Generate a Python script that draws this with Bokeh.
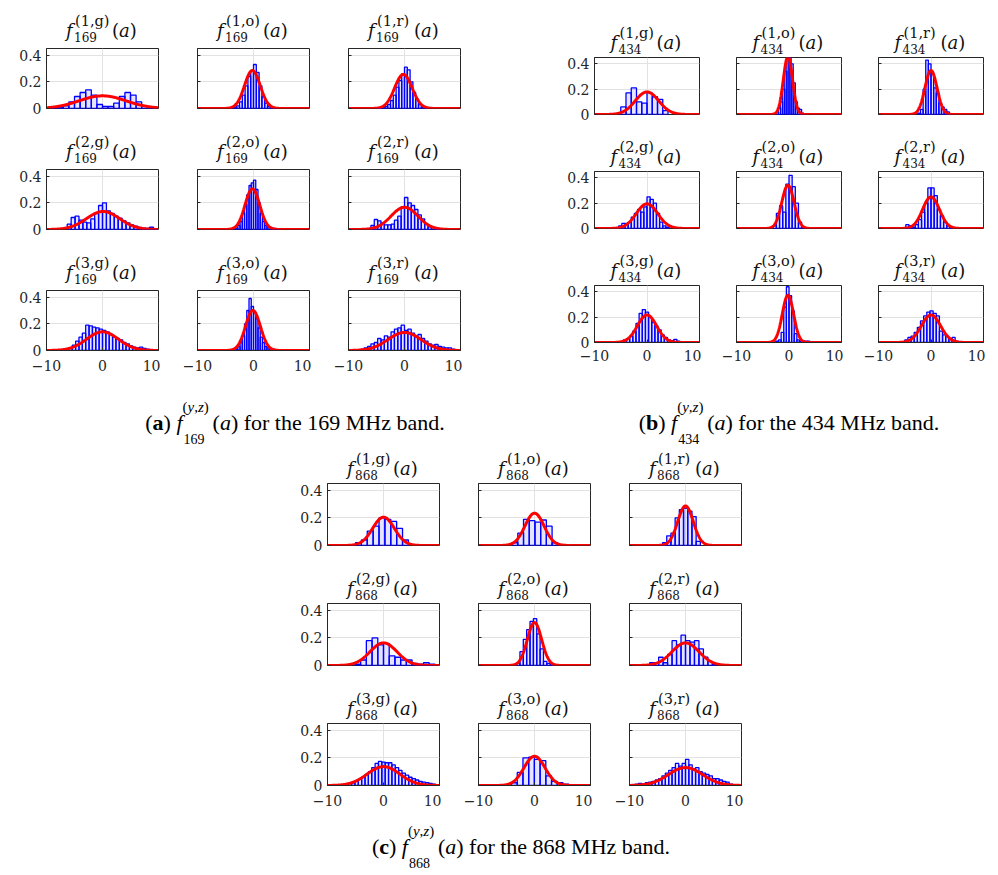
import numpy as np
from bokeh.plotting import figure
from bokeh.models import LinearAxis, FixedTicker, Div, Spacer, Grid
from bokeh.layouts import row, column
from bokeh.embed import file_html
from bokeh.resources import INLINE

# ---------------- data ----------------
X_TICKS = [-10, 0, 10]
Y_TICKS = [0, 0.2, 0.4]
X_TICK_LABELS = ["\u221210", "0", "10"]
Y_TICK_LABELS = ["0", "0.2", "0.4"]
BANDS = ["169", "434", "868"]
TAGS = ["(1,g)", "(1,o)", "(1,r)", "(2,g)", "(2,o)", "(2,r)", "(3,g)", "(3,o)", "(3,r)"]

# ---- 169 MHz: histogram heights (density), first bin edge, bin width ----
h169_1g = [0.005, 0.01, 0.02, 0.05, 0.09, 0.12, 0.14, 0.10, 0.03, 0.015, 0.015, 0.04, 0.09, 0.12, 0.10, 0.05, 0.02, 0.005]
h169_1o = [0.005, 0.01, 0.02, 0.05, 0.10, 0.17, 0.24, 0.28, 0.33, 0.27, 0.17, 0.09, 0.04, 0.015, 0.005, 0.002]
h169_1r = [0.005, 0.005, 0.01, 0.015, 0.03, 0.06, 0.10, 0.16, 0.21, 0.26, 0.31, 0.29, 0.20, 0.12, 0.07, 0.03, 0.01, 0.005]
h169_2g = [0.04, 0.09, 0.10, 0.07, 0.055, 0.05, 0.08, 0.12, 0.18, 0.20, 0.14, 0.12, 0.10, 0.085, 0.065, 0.05, 0.035, 0.025, 0.015, 0.01, 0.008, 0.017, 0.005]
h169_2o = [0.005, 0.01, 0.03, 0.06, 0.12, 0.19, 0.26, 0.33, 0.35, 0.37, 0.30, 0.20, 0.12, 0.06, 0.03, 0.02, 0.015, 0.01, 0.008, 0.005]
h169_2r = [0.03, 0.075, 0.065, 0.05, 0.035, 0.035, 0.04, 0.07, 0.10, 0.17, 0.24, 0.20, 0.18, 0.15, 0.11, 0.08, 0.04, 0.02, 0.015, 0.01, 0.005]
h169_3g = [0.005, 0.01, 0.02, 0.04, 0.07, 0.10, 0.13, 0.19, 0.185, 0.175, 0.17, 0.16, 0.15, 0.14, 0.12, 0.10, 0.09, 0.08, 0.06, 0.05, 0.035, 0.025, 0.02, 0.025, 0.015, 0.01, 0.005]
h169_3o = [0.005, 0.01, 0.03, 0.06, 0.11, 0.20, 0.30, 0.39, 0.33, 0.29, 0.24, 0.17, 0.10, 0.06, 0.03, 0.02, 0.015, 0.01, 0.008, 0.005, 0.004, 0.004]
h169_3r = [0.01, 0.02, 0.03, 0.05, 0.06, 0.09, 0.08, 0.11, 0.10, 0.14, 0.16, 0.17, 0.19, 0.15, 0.16, 0.13, 0.10, 0.12, 0.09, 0.07, 0.05, 0.04, 0.045, 0.03, 0.025, 0.02, 0.02, 0.01]
edge0_169 = [-9.0, -4.0, -5.0, -6.3, -3.6, -6.0, -7.2, -3.6, -7.8]
binw_169 = [1.0, 0.5, 0.5, 0.7, 0.4, 0.6, 0.6, 0.4, 0.6]
fit_mu_169 = [0.0, -0.2, -0.2, 0.1, -0.2, 0.0, 0.0, -0.1, 0.0]
fit_sd_169 = [4.2, 1.4, 1.56, 2.95, 1.31, 2.39, 2.85, 1.33, 2.95]

# ---- 434 MHz ----
h434_1g = [0.06, 0.17, 0.21, 0.10, 0.09, 0.17, 0.14, 0.12, 0.03]
h434_1o = [0.02, 0.05, 0.10, 0.20, 0.34, 0.45, 0.46, 0.40, 0.25, 0.10, 0.05, 0.04, 0.01]
h434_1r = [0.01, 0.04, 0.20, 0.43, 0.40, 0.33, 0.21, 0.17, 0.09, 0.06, 0.04, 0.02]
h434_2g = [0.02, 0.04, 0.04, 0.05, 0.09, 0.12, 0.15, 0.13, 0.17, 0.25, 0.23, 0.20, 0.12, 0.05, 0.02, 0.01]
h434_2o = [0.02, 0.12, 0.18, 0.13, 0.35, 0.42, 0.33, 0.20, 0.05, 0.01]
h434_2r = [0.03, 0.02, 0.01, 0.03, 0.07, 0.13, 0.20, 0.32, 0.32, 0.26, 0.15, 0.10, 0.05, 0.02, 0.01]
h434_3g = [0.02, 0.03, 0.05, 0.09, 0.15, 0.23, 0.26, 0.24, 0.20, 0.16, 0.13, 0.10, 0.06, 0.04, 0.02, 0.015, 0.025, 0.01, 0.005]
h434_3o = [0.01, 0.02, 0.08, 0.28, 0.44, 0.37, 0.25, 0.07, 0.02, 0.01, 0.01, 0.01, 0.01, 0.005, 0.005]
h434_3r = [0.02, 0.04, 0.05, 0.08, 0.12, 0.17, 0.21, 0.24, 0.25, 0.23, 0.21, 0.09, 0.06, 0.05, 0.03, 0.04, 0.01]
edge0_434 = [-5.0, -2.4, -2.5, -5.4, -3.0, -4.8, -4.5, -2.5, -5.0]
binw_434 = [1.0, 0.4, 0.5, 0.6, 0.6, 0.6, 0.6, 0.5, 0.6]
fit_mu_434 = [0.0, -0.2, 0.0, 0.0, -0.2, 0.0, 0.0, -0.2, 0.0]
fit_sd_434 = [2.24, 0.87, 1.15, 2.05, 1.17, 1.6, 1.84, 1.07, 1.84]

# ---- 868 MHz ----
h868_1g = [0.02, 0.04, 0.105, 0.14, 0.20, 0.19, 0.175, 0.125, 0.04]
h868_1o = [0.02, 0.09, 0.19, 0.18, 0.17, 0.185, 0.14, 0.02]
h868_1r = [0.02, 0.07, 0.09, 0.20, 0.26, 0.27, 0.25, 0.21, 0.03]
h868_2g = [0.01, 0.04, 0.18, 0.20, 0.15, 0.16, 0.07, 0.06, 0.04, 0.04, 0.015, 0.01, 0.02, 0.01]
h868_2o = [0.02, 0.10, 0.19, 0.26, 0.32, 0.34, 0.23, 0.12, 0.03, 0.015, 0.005]
h868_2r = [0.02, 0.02, 0.06, 0.02, 0.08, 0.18, 0.15, 0.22, 0.18, 0.17, 0.18, 0.12, 0.06, 0.03, 0.01]
h868_3g = [0.005, 0.01, 0.015, 0.02, 0.03, 0.045, 0.06, 0.08, 0.10, 0.13, 0.16, 0.175, 0.17, 0.165, 0.165, 0.15, 0.13, 0.11, 0.09, 0.075, 0.06, 0.05, 0.04, 0.03, 0.025, 0.02, 0.015, 0.01]
h868_3o = [0.02, 0.095, 0.20, 0.205, 0.19, 0.18, 0.07, 0.03, 0.02, 0.01]
h868_3r = [0.01, 0.015, 0.01, 0.02, 0.025, 0.03, 0.04, 0.05, 0.07, 0.09, 0.11, 0.13, 0.16, 0.14, 0.16, 0.19, 0.15, 0.12, 0.13, 0.10, 0.09, 0.08, 0.07, 0.05, 0.05, 0.04, 0.03, 0.025, 0.01]
edge0_868 = [-5.0, -4.0, -4.1, -5.1, -3.2, -6.4, -7.5, -4.1, -9.0]
binw_868 = [1.05, 1.02, 0.75, 1.02, 0.6, 0.8, 0.6, 1.02, 0.6]
fit_mu_868 = [0.0, 0.0, 0.0, 0.0, 0.0, 0.0, 0.0, 0.0, 0.0]
fit_sd_868 = [1.94, 1.70, 1.39, 2.43, 1.28, 2.43, 2.91, 1.88, 3.07]

HIST = {
    "169": [h169_1g, h169_1o, h169_1r, h169_2g, h169_2o, h169_2r, h169_3g, h169_3o, h169_3r],
    "434": [h434_1g, h434_1o, h434_1r, h434_2g, h434_2o, h434_2r, h434_3g, h434_3o, h434_3r],
    "868": [h868_1g, h868_1o, h868_1r, h868_2g, h868_2o, h868_2r, h868_3g, h868_3o, h868_3r],
}
EDGE0 = {"169": edge0_169, "434": edge0_434, "868": edge0_868}
BINW = {"169": binw_169, "434": binw_434, "868": binw_868}
MU = {"169": fit_mu_169, "434": fit_mu_434, "868": fit_mu_868}
SD = {"169": fit_sd_169, "434": fit_sd_434, "868": fit_sd_868}

# ---------------- styling / geometry ----------------
FONT = "DejaVu Serif"
AX = "#262626"
GRID = "#e2e2e2"
# fw/fh: frame size, lb: left border, divh: title strip height per row,
# bb: bottom border of the last row, base: title baseline above the frame
GEOM = {
    "169": dict(fw=112, fh=60, lb=37, divh=[46, 50, 50], bb=32, base=11, stand=9),
    "434": dict(fw=105, fh=57, lb=35, divh=[55, 46, 46], bb=30, base=8, stand=7),
    "868": dict(fw=112, fh=62, lb=37, divh=[35, 47, 47], bb=32, base=8, stand=9),
}
TOPB = 2      # figure top border
MIDB = 9      # bottom border of non-bottom rows (room for the "0" tick label)
ASC = 0.846   # baseline position (em) of DejaVu Serif with line-height 1


def title_div(band, tag, g, r):
    W = g["lb"] + g["fw"] + 2
    H = g["divh"][r]
    ftop = H + TOPB
    cx = g["lb"] + g["fw"] / 2.0
    base = g["base"]
    parts = [("f", -36, 0, 18, True), (tag, -27, 11, 14.5, False),
             (band, -28, -5, 12, False), ("(", 10, 0, 18, False),
             ("a", 17, 0, 18, True), (")", 27.7, 0, 18, False)]
    spans = []
    for txt, dx, up, fs, it in parts:
        top = ftop - base - up - ASC * fs
        style = (f"position:absolute;left:{cx + dx:.1f}px;top:{top:.1f}px;font-size:{fs}px;"
                 "line-height:1;white-space:nowrap;" + ("font-style:italic;" if it else ""))
        spans.append(f'<span style="{style}">{txt}</span>')
    html = (f'<div style="position:relative;width:{W}px;height:{H}px;'
            f"font-family:'{FONT}',serif;color:#111111;\">" + "".join(spans) + "</div>")
    return Div(text=html, width=W, height=H, margin=0)


def make_sub(band, idx):
    g = GEOM[band]
    r, c = divmod(idx, 3)
    fw, fh, lb = g["fw"], g["fh"], g["lb"]
    bb = g["bb"] if r == 2 else MIDB
    p = figure(width=lb + fw + 2, height=TOPB + fh + bb, x_range=(-10, 10), y_range=(0, 0.45),
               x_axis_location=None, y_axis_location=None, toolbar_location=None,
               output_backend="svg", min_border_left=lb, min_border_right=2,
               min_border_top=TOPB, min_border_bottom=bb,
               outline_line_color=AX, outline_line_width=1,
               background_fill_color="white", border_fill_color="white")
    p.center = [rr for rr in p.center if not isinstance(rr, Grid)]
    p.add_layout(Grid(dimension=0, ticker=FixedTicker(ticks=X_TICKS), grid_line_color=GRID), "center")
    p.add_layout(Grid(dimension=1, ticker=FixedTicker(ticks=Y_TICKS), grid_line_color=GRID), "center")

    if c == 0:
        ylab = {t: s for t, s in zip(Y_TICKS, Y_TICK_LABELS)}
    else:
        ylab = {t: "" for t in Y_TICKS}
    yax = LinearAxis(ticker=FixedTicker(ticks=Y_TICKS), major_label_overrides=ylab,
                     major_tick_in=3, major_tick_out=0, minor_tick_in=0, minor_tick_out=0,
                     axis_line_color=AX, major_tick_line_color=AX,
                     major_label_text_font=FONT, major_label_text_font_size="14px",
                     major_label_text_color=AX, major_label_standoff=5)
    p.add_layout(yax, "left")
    if r == 2:
        xax = LinearAxis(ticker=FixedTicker(ticks=X_TICKS),
                         major_label_overrides={t: s for t, s in zip(X_TICKS, X_TICK_LABELS)},
                         major_tick_in=3, major_tick_out=0, minor_tick_in=0, minor_tick_out=0,
                         axis_line_color=AX, major_tick_line_color=AX,
                         major_label_text_font=FONT, major_label_text_font_size="14px",
                         major_label_text_color=AX, major_label_standoff=g["stand"])
        p.add_layout(xax, "below")

    heights = HIST[band][idx]
    e0, w = EDGE0[band][idx], BINW[band][idx]
    left = [e0 + i * w for i in range(len(heights))]
    right = [e0 + (i + 1) * w for i in range(len(heights))]
    p.quad(left=left, right=right, bottom=0, top=heights, fill_color="#0000ff", fill_alpha=0.10,
           line_color="#0000ff", line_width=1.3)

    mu, sd = MU[band][idx], SD[band][idx]
    xs = np.linspace(-10, 10, 401)
    ys = np.exp(-0.5 * ((xs - mu) / sd) ** 2) / (sd * np.sqrt(2 * np.pi))
    p.line(xs, ys, line_color="#ff0000", line_width=3)

    return column(title_div(band, TAGS[idx], g, r), p)


def panel(band):
    cells = [make_sub(band, i) for i in range(9)]
    return column(*[row(*cells[r * 3:(r + 1) * 3]) for r in range(3)])


def caption_div(letter, band, width, height, pad_top):
    stack = ('<span style="display:inline-block;position:relative;width:30px;height:21px;">'
             '<span style="position:absolute;left:0px;top:-9px;font-size:15px;line-height:1;">'
             '(<i>y</i>,<i>z</i>)</span>'
             f'<span style="position:absolute;left:1px;top:24px;font-size:14px;line-height:1;">{band}</span>'
             '</span>')
    html = (f'<div style="width:{width}px;text-align:center;padding-top:{pad_top}px;'
            "font-family:'Liberation Serif',serif;font-size:22px;line-height:1;color:#000;"
            'white-space:nowrap;">'
            f'(<b>{letter}</b>) <i>f</i>{stack}(<i>a</i>) for the {band} MHz band.</div>')
    return Div(text=html, width=width, height=height, margin=0)


panelA = panel("169")
panelB = panel("434")
panelC = panel("868")

top = row(Spacer(width=9, height=10), panelA, Spacer(width=97, height=10), panelB)
caps = row(Spacer(width=95, height=64), caption_div("a", "169", 400, 64, 27),
           Spacer(width=94, height=64), caption_div("b", "434", 400, 64, 27))
bottom = row(Spacer(width=290, height=10), panelC)
capC = row(Spacer(width=321, height=58), caption_div("c", "868", 400, 58, 16))

page = column(top, caps, bottom, capC)

with open("out.html", "w") as fh_out:
    fh_out.write(file_html(page, INLINE, title="f(a) histograms"))
